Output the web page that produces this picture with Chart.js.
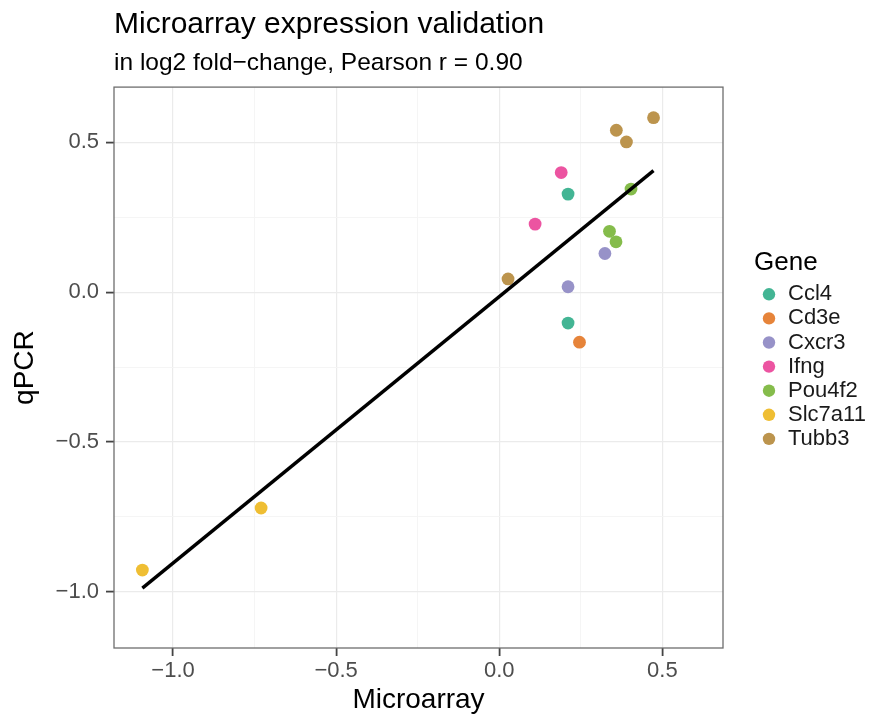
<!DOCTYPE html>
<html>
<head>
<meta charset="utf-8">
<script src="https://cdn.jsdelivr.net/npm/chart.js@4"></script>
<style>
  body { margin: 0; background: #fff; }
</style>
</head>
<body>
<canvas id="chart" width="870" height="719"></canvas>
<script>
"use strict";

const genes = ["Ccl4", "Cd3e", "Cxcr3", "Ifng", "Pou4f2", "Slc7a11", "Tubb3"];
const geneColors = ["#43B594", "#E6843A", "#9792C8", "#EC54A1", "#85BC4B", "#EFBE33", "#BC944D"];

// one entry per measured gene/probe
const pointGene = [
  "Ccl4", "Ccl4", "Cd3e", "Cxcr3", "Cxcr3", "Ifng", "Ifng", "Pou4f2",
  "Pou4f2", "Pou4f2", "Slc7a11", "Slc7a11", "Tubb3", "Tubb3", "Tubb3", "Tubb3",
];
const microarray = [
  0.211, 0.211, 0.246, 0.211, 0.324, 0.19, 0.11, 0.404,
  0.338, 0.358, -1.094, -0.73, 0.473, 0.359, 0.39, 0.027,
];
const qpcr = [
  0.327, -0.103, -0.167, 0.018, 0.129, 0.399, 0.227, 0.344,
  0.203, 0.168, -0.927, -0.72, 0.582, 0.54, 0.501, 0.044,
];

const xTicks = [-1.0, -0.75, -0.5, -0.25, 0, 0.25, 0.5];
const yTicks = [-1.0, -0.75, -0.5, -0.25, 0, 0.25, 0.5];
const xRange = [-1.181, 0.686];
const yRange = [-1.187, 0.684];

const FONT = "'Liberation Sans', Arial, Helvetica, sans-serif";
Chart.defaults.font.family = FONT;

// least squares line over all points, drawn across the data range
function linearFit(xs, ys) {
  const n = xs.length;
  const mx = xs.reduce((a, b) => a + b, 0) / n;
  const my = ys.reduce((a, b) => a + b, 0) / n;
  let sxy = 0;
  let sxx = 0;
  for (let i = 0; i < n; i++) {
    sxy += (xs[i] - mx) * (ys[i] - my);
    sxx += (xs[i] - mx) * (xs[i] - mx);
  }
  const slope = sxy / sxx;
  const x0 = Math.min(...xs);
  const x1 = Math.max(...xs);
  return [
    { x: x0, y: my + slope * (x0 - mx) },
    { x: x1, y: my + slope * (x1 - mx) },
  ];
}

const isMajor = (v) => Math.abs(v * 2 - Math.round(v * 2)) < 1e-9;
const fmt = (v) => (isMajor(v) ? v.toFixed(1).replace("-", "\u2212") : "");

const datasets = [
  {
    type: "line",
    label: "fit",
    data: linearFit(microarray, qpcr),
    borderColor: "#000",
    borderWidth: 3.4,
    pointRadius: 0,
    fill: false,
  },
];
genes.forEach((g, gi) => {
  const pts = [];
  pointGene.forEach((name, i) => {
    if (name === g) pts.push({ x: microarray[i], y: qpcr[i] });
  });
  datasets.push({
    type: "scatter",
    label: g,
    data: pts,
    backgroundColor: geneColors[gi],
    borderWidth: 0,
    pointRadius: 6.4,
    pointHoverRadius: 6.4,
  });
});

const panelBorder = {
  id: "panelBorder",
  afterDatasetsDraw(chart) {
    const { ctx, chartArea: a } = chart;
    ctx.save();
    ctx.strokeStyle = "#6e6e6e";
    ctx.lineWidth = 1.3;
    ctx.strokeRect(a.left, a.top, a.right - a.left, a.bottom - a.top);
    ctx.restore();
  },
};

const geneLegend = {
  id: "geneLegend",
  afterDraw(chart) {
    const ctx = chart.ctx;
    const items = chart.data.datasets.filter((d) => d.type === "scatter");
    ctx.save();
    ctx.fillStyle = "#000";
    ctx.font = "26px " + FONT;
    ctx.textBaseline = "alphabetic";
    ctx.fillText("Gene", 754, 270);
    ctx.font = "22px " + FONT;
    ctx.textBaseline = "middle";
    items.forEach((d, i) => {
      const y = 294.3 + i * 24.1;
      ctx.fillStyle = d.backgroundColor;
      ctx.beginPath();
      ctx.arc(769, y, 6.2, 0, Math.PI * 2);
      ctx.fill();
      ctx.fillStyle = "#1a1a1a";
      ctx.fillText(d.label, 788, y);
    });
    ctx.restore();
  },
};

const gridColor = (c) => (isMajor(c.tick.value) ? "#EBEBEB" : "#F4F4F4");
const gridWidth = (c) => (isMajor(c.tick.value) ? 1.2 : 0.9);
const tickColor = (c) => (isMajor(c.tick.value) ? "#444" : "rgba(0,0,0,0)");

const myChart = new Chart(document.getElementById("chart"), {
  data: { datasets: datasets },
  plugins: [panelBorder, geneLegend],
  options: {
    responsive: false,
    animation: false,
    events: [],
    layout: { padding: { left: 0, right: 147, top: 0, bottom: 0 } },
    plugins: {
      legend: { display: false },
      tooltip: { enabled: false },
      title: {
        display: true,
        text: "Microarray expression validation",
        align: "start",
        fullSize: false,
        color: "#000",
        font: { size: 30, weight: "normal" },
        padding: { top: 7, bottom: 0 },
      },
      subtitle: {
        display: true,
        text: "in log2 fold\u2212change, Pearson r = 0.90",
        align: "start",
        fullSize: false,
        color: "#000",
        font: { size: 24.5, weight: "normal" },
        padding: { top: 5.4, bottom: 9.3 },
      },
    },
    scales: {
      x: {
        type: "linear",
        min: xRange[0],
        max: xRange[1],
        afterBuildTicks: (s) => { s.ticks = xTicks.map((v) => ({ value: v })); },
        afterFit: (s) => { s.height = 71; },
        border: { display: false },
        grid: {
          color: gridColor,
          lineWidth: gridWidth,
          tickColor: tickColor,
          tickWidth: 1.8,
          tickLength: 8,
        },
        ticks: {
          autoSkip: false,
          maxRotation: 0,
          padding: 2,
          color: "#4D4D4D",
          font: { size: 22 },
          callback: (v) => fmt(v),
        },
        title: {
          display: true,
          text: "Microarray",
          color: "#000",
          font: { size: 28 },
          padding: { top: 0, bottom: 2 },
        },
      },
      y: {
        type: "linear",
        min: yRange[0],
        max: yRange[1],
        afterBuildTicks: (s) => { s.ticks = yTicks.map((v) => ({ value: v })); },
        afterFit: (s) => { s.width = 114; },
        border: { display: false },
        grid: {
          color: gridColor,
          lineWidth: gridWidth,
          tickColor: tickColor,
          tickWidth: 1.8,
          tickLength: 8,
        },
        ticks: {
          autoSkip: false,
          padding: 7,
          color: "#4D4D4D",
          font: { size: 22 },
          callback: (v) => fmt(v),
        },
        title: {
          display: true,
          text: "qPCR",
          color: "#000",
          font: { size: 28 },
          padding: { top: 8.5, bottom: 0 },
        },
      },
    },
  },
});
</script>
</body>
</html>
